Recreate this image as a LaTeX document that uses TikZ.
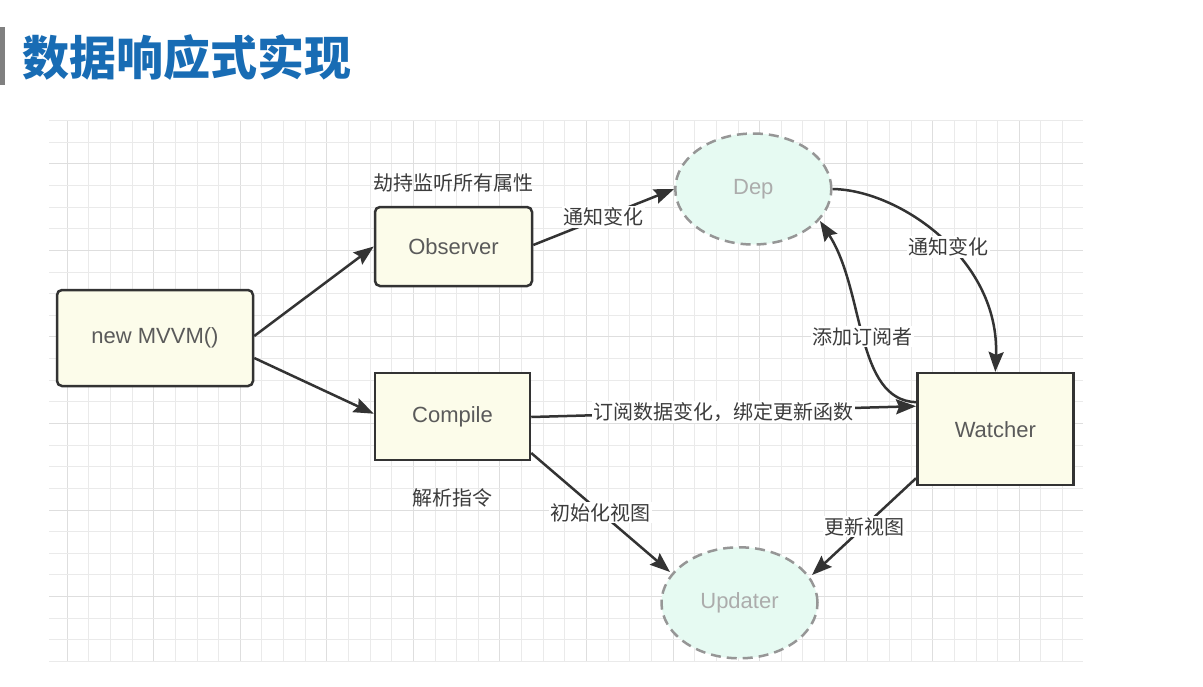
\documentclass[tikz,border=0pt]{standalone}
\usepackage{fontspec}
\setmainfont{Liberation Sans}
\newfontfamily\cjk{Noto Sans CJK SC}
\usetikzlibrary{arrows.meta,shapes.geometric,calc}

\definecolor{titleblue}{RGB}{24,108,180}
\definecolor{barc}{RGB}{128,128,128}
\definecolor{gridminor}{RGB}{234,234,234}
\definecolor{gridmajor}{RGB}{222,222,222}
\definecolor{linec}{RGB}{51,51,51}
\definecolor{boxfill}{RGB}{252,252,234}
\definecolor{mint}{RGB}{230,250,242}
\definecolor{dashc}{RGB}{150,150,150}
\definecolor{nodetext}{RGB}{90,90,90}
\definecolor{faint}{RGB}{172,172,172}
\definecolor{labeltext}{RGB}{60,60,60}

\tikzset{
  box/.style={draw=linec, line width=2.5pt, fill=boxfill, text=nodetext,
    font=\fontsize{22}{26}\selectfont, inner sep=0pt},
  bubble/.style={ellipse, draw=dashc, dash pattern=on 10pt off 6pt,
    line width=2.5pt, fill=mint, text=faint,
    font=\fontsize{22}{26}\selectfont, inner sep=0pt,
    minimum width=156pt, minimum height=111pt},
  link/.style={draw=linec, line width=2.5pt,
    -{Stealth[length=20pt,width=15pt,inset=3pt]}},
  lbl/.style={font=\cjk\fontsize{20}{24}\selectfont, text=labeltext,
    fill=white, inner sep=1.5pt},
  note/.style={font=\cjk\fontsize{20}{24}\selectfont, text=labeltext,
    inner sep=0pt},
  minorline/.style={draw=gridminor, line width=1pt},
  majorline/.style={draw=gridmajor, line width=1pt},
}

\begin{document}
\begin{tikzpicture}[x=1pt, y=-1pt]
  \useasboundingbox (0,0) rectangle (1203,686);
  \fill[white] (0,0) rectangle (1203,686);

  % heading
  \fill[barc] (0,27) rectangle (5,85);
  \node[anchor=west, inner sep=0pt, text=titleblue,
        font=\cjk\bfseries\fontsize{47}{51}\selectfont] (title) at (22,57) {数据响应式实现};

  % background grid, snapped to whole pixels
  \foreach \k in {0,...,46} {
    \pgfmathsetmacro\xx{round(66.7+21.64*\k)+0.5}
    \ifnum\numexpr\k-4*(\k/4)\relax=0
      \draw[majorline] (\xx,120) -- (\xx,662);
    \else
      \draw[minorline] (\xx,120) -- (\xx,662);
    \fi
  }
  \foreach \k in {-2,...,23} {
    \pgfmathsetmacro\yy{round(163.3+21.64*\k)+0.5}
    \draw[minorline] (49.3,\yy) -- (1083,\yy);
  }
  \foreach \k in {0,4,...,20} {
    \pgfmathsetmacro\yy{round(163.3+21.64*\k)+0.5}
    \draw[majorline] (49.3,\yy) -- (1083,\yy);
  }

  % nodes
  \node[box, rounded corners=5pt, minimum width=196pt, minimum height=96pt]
    (mvvm) at (155,338) {new MVVM()};
  \node[box, rounded corners=5pt, minimum width=157pt, minimum height=79pt]
    (obs) at (453.5,246.5) {Observer};
  \node[box, minimum width=155pt, minimum height=87pt]
    (comp) at (452.5,416.7) {Compile};
  \node[box, minimum width=156pt, minimum height=112pt]
    (watch) at (995.3,429.2) {Watcher};
  \node[bubble] (dep) at (753.3,189) {Dep};
  \node[bubble] (upd) at (739.5,602.8) {Updater};

  % free captions
  \node[note] (hijack) at (453,183) {劫持监听所有属性};
  \node[note] (parse) at (452,498) {解析指令};

  % connectors
  \draw[link] ($(mvvm.east)+(0,-2)$) -- (obs.west);
  \draw[link] ($(mvvm.east)+(0,20)$) -- ($(comp.west)+(0,-3)$);
  \draw[link] ($(obs.east)+(0,-1.5)$) -- (dep.west)
    node[lbl, pos=0.5] {通知变化};
  \draw[link] (dep.east) .. controls (900,190) and (1000,260) .. (watch.north)
    node[lbl, pos=0.54] {通知变化};
  \draw[link] ($(watch.west)+(0,-27)$) .. controls (855,400) and (865,290) .. (820,221)
    node[lbl, pos=0.5] {添加订阅者};
  \draw[link] ($(comp.east)+(0,0.3)$) -- ($(watch.west)+(0,-23)$)
    node[lbl, pos=0.5] {订阅数据变化，绑定更新函数};
  \draw[link] ($(comp.east)+(0,36.3)$) -- (670,572)
    node[lbl, pos=0.5] {初始化视图};
  \draw[link] ($(watch.west)+(0,49)$) -- (812,575)
    node[lbl, pos=0.5] {更新视图};
\end{tikzpicture}
\end{document}
